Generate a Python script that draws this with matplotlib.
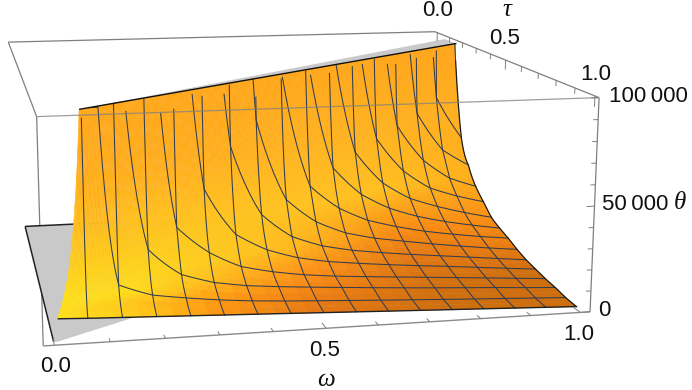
import numpy as np, matplotlib
matplotlib.use('Agg')
import matplotlib.pyplot as plt
from mpl_toolkits.mplot3d.art3d import Poly3DCollection

W, H = 692, 390
N = np.nan
# --- data -----------------------------------------------------------------
omega_nodes = [i / 16 for i in range(17)]
tau_nodes = [0.1 + 0.9 * j / 16 for j in range(17)]
# theta in thousands, rows tau_nodes[j], columns omega_nodes[i]; NaN = clipped (above 100 000)
r00 = [N]*17
r01 = [N]*17
r02 = [N]*16 + [90]
r03 = [N]*15 + [72, 49]
r04 = [N]*14 + [66, 45, 36]
r05 = [N]*13 + [62, 42.5, 32, 26.8]
r06 = [N]*12 + [58, 40, 30, 25, 21.2]
r07 = [N]*11 + [54, 37, 28, 23, 19, 15.7]
r08 = [N]*10 + [49, 34.5, 26.5, 21.5, 18, 15.3, 13]
r09 = [N]*9 + [43, 31, 24, 20, 16.8, 14.5, 12.5, 10.9]
r10 = [N]*7 + [80, 39.8, 27.9, 21.5, 18, 15.7, 13.5, 11.6, 9.8, 8.3]
r11 = [N]*6 + [70, 36.1, 24.4, 19, 16, 14, 12.3, 10.8, 9.3, 7.8, 6.3]
r12 = [N]*5 + [52.9, 30.25, 22, 17.3, 14.6, 12.9, 11.4, 10.1, 8.9, 7.6, 6.3, 5.1]
r13 = [N]*4 + [38.4, 25.7, 18.15, 14.8, 12.5, 11, 9.9, 8.9, 7.9, 6.9, 5.9, 4.9, 3.85]
r14 = [N]*3 + [32.1, 19.6, 15, 12.65, 11.3, 10.2, 9.2, 8.2, 7.3, 6.4, 5.6, 4.8, 3.9, 3.1]
r15 = [N]*2 + [20.1, 14.6, 12.4, 10.6, 9.25, 8.3, 7.5, 6.8, 6.0, 5.3, 4.6, 3.9, 3.3, 2.6, 1.9]
r16 = [N, 9.7, 9.2, 8.6, 8.1, 7.5, 7.0, 6.4, 5.85, 5.3, 4.7, 4.2, 3.6, 3.1, 2.5, 2.0, 1.4]
theta_k = [r00, r01, r02, r03, r04, r05, r06, r07, r08, r09, r10, r11, r12, r13, r14, r15, r16]
# height of each row where it meets the straight cut line (100 = the box top)
cut_theta = [100]*15 + [230, 10.3]
# the straight line in the (omega, tau) plane along which the surface leaves the box
edge_omega = [0.007, 1.0]
edge_tau = [1.0, 0.21]
strip_tau_end = 0.125       # far side of the grey clipped strip at omega = 1
floor_tau = 0.1             # far side of the grey clipped floor
omega_ticks = [i / 10 for i in range(11)]
tau_ticks = [i / 10 for i in range(11)]
theta_ticks = [i * 10000 for i in range(11)]

# colour of the lit surface, by height above the near edge (thousands, rows) and omega (columns)
shade_rise = [0, 3, 8, 15, 30, 60, 100]
shade_omega = [0, 0.15, 0.3, 0.5, 0.75, 1]
shade_rgb = [
    [(255,225,30),(255,205,25),(250,150,20),(225,118,20),(205,110,15),(205,110,15)],
    [(255,225,30),(255,195,25),(255,155,20),(240,130,20),(210,112,15),(205,110,15)],
    [(255,225,30),(255,220,30),(255,190,30),(255,150,25),(225,120,20),(235,125,15)],
    [(255,215,30),(255,215,30),(255,205,30),(255,185,30),(250,140,20),(250,145,20)],
    [(255,200,30),(255,200,30),(255,197,30),(255,195,30),(255,190,30),(255,175,25)],
    [(255,175,30),(255,175,30),(255,175,30),(255,178,30),(255,178,30),(255,175,30)],
    [(255,165,25),(255,165,25),(255,165,25),(255,165,25),(255,165,25),(255,165,25)],
]
# box corners as seen in the picture: (omega, tau, theta) -> pixel
box_lo, box_hi = -0.02, 1.02
corner_world = [(box_lo,box_hi,0),(box_hi,box_hi,0),(box_hi,box_hi,1e5),(box_lo,box_hi,1e5),(box_lo,box_lo,1e5),(box_hi,box_lo,1e5),(box_lo,box_lo,0)]
corner_pixel = [(43,346),(590,312),(599,97),(37,117),(8,42),(435,32),(14,215)]

# --- figure and 3D axes with a camera matched to the box ------------------
fig = plt.figure(figsize=(W/100, H/100), dpi=100)
S = W
ax = fig.add_axes([0, -(S-H)/2/H, 1, S/H], projection='3d', computed_zorder=False)
ax.set_axis_off()
ax.set_xlim(box_lo, box_hi); ax.set_ylim(box_hi, box_lo); ax.set_zlim(0, 1e5)
ax.set_autoscale_on(False)

def camera():
    ax.apply_aspect()
    q = np.array(corner_pixel, float); q[:,1] = H - q[:,1]
    q = ax.transData.inverted().transform(q)
    A = []
    for (a,b,c),(u,v) in zip(corner_world, q):
        c = c/1e5
        A.append([a,b,c,1,0,0,0,0,-u*a,-u*b,-u*c,-u])
        A.append([0,0,0,0,a,b,c,1,-v*a,-v*b,-v*c,-v])
    h = np.linalg.svd(np.array(A))[2][-1].reshape(3,4)
    h = h / (h[2] @ np.array([.5,.5,.5,1]))
    M = np.vstack([h[0], h[1], [0,-1,-0.2,0], h[2]])
    M[:,2] = M[:,2] / 1e5
    return M
ax.get_proj = camera

# --- surface evaluation: each row runs from the cut line to the box side --
om_n = np.array(omega_nodes); ta_n = np.array(tau_nodes)
slope = (edge_omega[1]-edge_omega[0])/(edge_tau[1]-edge_tau[0])
def omega_cut(ta):
    return edge_omega[0] + slope*(np.asarray(ta, float)-edge_tau[0])
def tau_edge(om):
    return edge_tau[0] + (np.asarray(om, float)-edge_omega[0])/slope
row_d, row_v = [], []
for j, row in enumerate(theta_k):
    v = np.array(row, float)
    c = float(omega_cut(ta_n[j]))
    ok = ~np.isnan(v) & (om_n > c)
    d = np.r_[0.0, om_n[ok]-c]
    lv = np.log(np.r_[cut_theta[j], v[ok]])
    if len(d) >= 2:
        # continue past omega = 1 with the last slope (kept gentle), so rows stay comparable
        s = max((lv[-1]-lv[-2])/(d[-1]-d[-2]), -6.0)
        d = np.r_[d, d[-1]+0.2]
        lv = np.r_[lv, lv[-1]+s*0.2]
    row_d.append(d); row_v.append(lv)
dT = ta_n[1]-ta_n[0]
def theta_at(om, ta):
    om = np.atleast_1d(np.asarray(om, float)); ta = np.atleast_1d(np.asarray(ta, float))
    om, ta = np.broadcast_arrays(om, ta)
    d = om - omega_cut(ta)
    fj = np.clip((ta-ta_n[0])/dT, 0, 15.999999)
    j = fj.astype(int); t = fj-j
    out = np.zeros_like(d)
    for jj in np.unique(j):
        m = j == jj
        a = np.interp(d[m], row_d[jj], row_v[jj])
        b = np.interp(d[m], row_d[jj+1], row_v[jj+1])
        out[m] = a*(1-t[m]) + b*t[m]
    return np.minimum(np.exp(out), 100.0)
def side(om, ta):
    return ta - tau_edge(om)
def clip_poly(P):
    out = []
    for k in range(len(P)):
        a, b = P[k], P[(k+1) % len(P)]
        sa, sb = float(side(*a)), float(side(*b))
        if sa >= 0: out.append(a)
        if (sa >= 0) != (sb >= 0):
            t = sa/(sa-sb)
            out.append((a[0]+t*(b[0]-a[0]), a[1]+t*(b[1]-a[1])))
    return out
table = np.array(shade_rgb, float)/255
near_edge = np.array(r16, float); near_edge[0] = cut_theta[16]
def colour(om, z):
    rise = max(z - np.interp(om, om_n, near_edge), 0)
    byz = np.array([[np.interp(rise, shade_rise, table[:,c,k]) for c in range(table.shape[1])] for k in range(3)])
    return [float(np.interp(om, shade_omega, byz[k])) for k in range(3)]

polys, cols = [], []
def emit(o0, o1, t0, t1, depth):
    P = clip_poly([(o0,t0),(o1,t0),(o1,t1),(o0,t1)])
    if len(P) < 3:
        return
    oo = np.array([p[0] for p in P]); tt = np.array([p[1] for p in P])
    zz = theta_at(oo, tt)
    if depth < 4 and (depth < 1 or zz.max()-zz.min() > 3.5):
        om, tm = (o0+o1)/2, (t0+t1)/2
        emit(o0,om,t0,tm,depth+1); emit(om,o1,t0,tm,depth+1)
        emit(o0,om,tm,t1,depth+1); emit(om,o1,tm,t1,depth+1)
        return
    polys.append(list(zip(oo, tt, zz*1000)))
    cols.append(colour(oo.mean(), zz.mean()))
for j in range(16):
    for i in range(16):
        emit(i/16, (i+1)/16, ta_n[j], ta_n[j+1], 0)

# --- box ------------------------------------------------------------------
BOX = '#7f7f7f'
def seg(a, b, z, lw=0.9, c=BOX, alpha=1):
    ax.plot([a[0],b[0]],[a[1],b[1]],[a[2],b[2]], color=c, lw=lw, zorder=z, alpha=alpha, solid_capstyle='butt')
lo, hi, T = box_lo, box_hi, 1e5
far_edges = [((lo,lo,T),(hi,lo,T)),((lo,lo,0),(lo,lo,T)),((hi,lo,T),(hi,hi,T)),((lo,lo,T),(lo,hi,T)),((lo,lo,0),(lo,hi,0)),((lo,hi,0),(lo,hi,T)),((lo,lo,0),(hi,lo,0)),((hi,lo,0),(hi,hi,0)),((hi,lo,0),(hi,lo,T))]
for a, b in far_edges:
    seg(a, b, 0.5)
# grey clipped caps
cap0 = [(0,floor_tau,0),(0,1,0),(edge_omega[0],1,0),(1,float(tau_edge(1.0)),0),(1,floor_tau,0)]
ax.add_collection3d(Poly3DCollection([cap0], facecolors='#c9c9c9', edgecolors='none', zorder=1))
start = 0.06
cap1 = [(start,float(tau_edge(start)),T),(1,float(tau_edge(1.0)),T),(1,strip_tau_end,T)]
ax.add_collection3d(Poly3DCollection([cap1], facecolors='#c9c9c9', edgecolors='none', zorder=1))
seg((0,floor_tau,0),(0,1,0),1.2,lw=1.1,c='#222222')
seg((0,floor_tau,0),(0.2,floor_tau,0),1.2,lw=1.1,c='#222222')
surf = Poly3DCollection(polys, facecolors=cols, edgecolors=cols, linewidths=0.35, zorder=2)
ax.add_collection3d(surf)

# --- mesh -----------------------------------------------------------------
MESH = '#323c4e'
def mesh_line(om, ta, lw=0.75, c=MESH, z=3):
    om, ta = np.broadcast_arrays(np.asarray(om, float), np.asarray(ta, float))
    keep = side(om, ta) >= 0
    ax.plot(om[keep], ta[keep], theta_at(om[keep], ta[keep])*1000, color=c, lw=lw, zorder=z)
fine_om = np.linspace(0, 1, 321)
fine_ta = np.linspace(floor_tau, 1, 321)
for i in range(1, 16):
    mesh_line(omega_nodes[i], fine_ta)
for j in range(1, 16):
    mesh_line(fine_om, tau_nodes[j])
mesh_line(1.0, fine_ta, lw=0.9, c='#1a1a1a')
mesh_line(fine_om[fine_om > edge_omega[0]], 1.0, lw=1.0, c='#222222')
oe = np.linspace(start, 1, 40)
ax.plot(oe, tau_edge(oe), np.full(40, T), color='#111111', lw=1.0, zorder=3)

# front edges and ticks
seg((lo,hi,T),(hi,hi,T),4,alpha=0.75)
seg((lo,hi,0),(hi,hi,0),4,lw=1.0,c='#8a8a8a')
seg((hi,hi,0),(hi,hi,T),4)
for k, v in enumerate(omega_ticks):
    L = 0.035 if k % 5 == 0 else 0.022
    seg((v,hi,0),(v,hi-L,0),4,lw=0.7)
for k, v in enumerate(tau_ticks):
    L = 5000 if k % 5 == 0 else 2800
    seg((hi,v,T),(hi,v,T-L),4,lw=0.7)
for k, v in enumerate(theta_ticks):
    L = 0.016 if k % 5 == 0 else 0.010
    seg((hi,hi,v),(hi-L,hi,v),4,lw=0.7)

# --- text -----------------------------------------------------------------
def label(x, y, s, **kw):
    fig.text(x/W, 1-y/H, s, ha='center', va='center', color='#111111', **kw)
sans = dict(family='Liberation Sans', fontsize=16)
ital = dict(family='Liberation Serif', style='italic', fontsize=18)
label(56, 367, '0.0', **sans); label(325, 350, '0.5', **sans); label(579, 334, '1.0', **sans)
label(326, 380, '\u03c9', **ital)
label(438, 11, '0.0', **sans); label(505, 39, '0.5', **sans); label(596, 75, '1.0', **sans)
label(507, 10, '\u03c4', **ital)
label(648, 97, '100\u2009000', **sans); label(635, 205, '50\u2009000', **sans); label(604, 311, '0', **sans)
label(680, 203, '\u03b8', **ital)
fig.savefig('out.png', dpi=100)
